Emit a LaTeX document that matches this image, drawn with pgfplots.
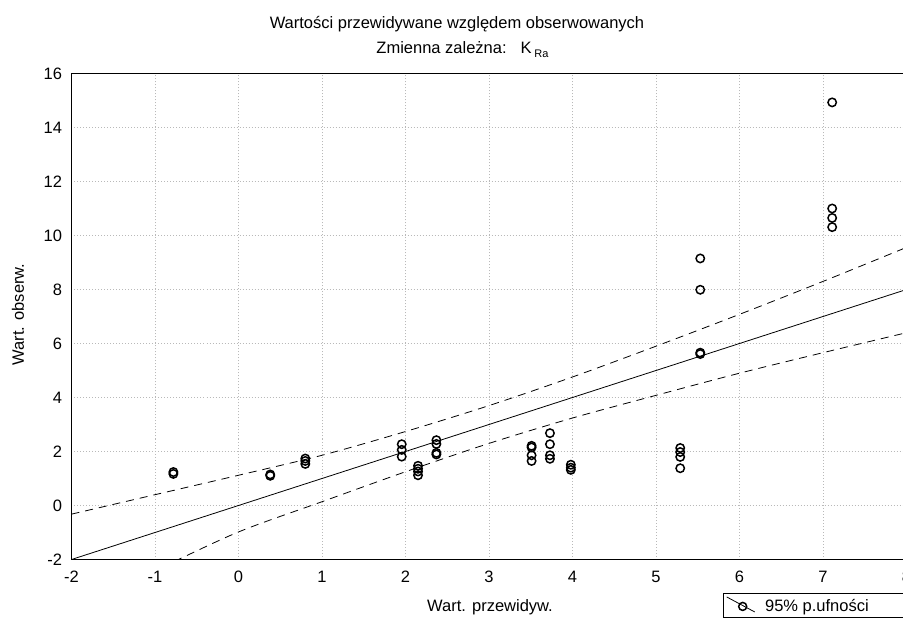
\documentclass[border=0pt]{standalone}
\usepackage{fontspec}
\setmainfont{Liberation Sans}
\usepackage{pgfplots}
\pgfplotsset{compat=1.18}
\newcommand{\fs}{\fontsize{16.5}{19}\selectfont}

\begin{document}
\begin{tikzpicture}[x=1pt,y=1pt]
\begin{axis}[
  at={(0,0)}, anchor=south west, scale only axis,
  width=835pt, height=486pt,
  xmin=-2, xmax=8, ymin=-2, ymax=16,
  xtick={-2,-1,...,8}, ytick={-2,0,...,16},
  grid=major,
  grid style={gray!55, line width=0.7pt, dash pattern=on 1pt off 2pt},
  major tick length=0pt,
  axis line style={line width=1pt},
  tick label style={font=\fs},
  /pgf/number format/assume math mode=true,
  xticklabel style={yshift=-8pt},
  yticklabel style={xshift=-6pt},
  legend style={at={(0.780,-0.069)}, anchor=north west, draw=black,
    line width=1pt, font=\fs, inner xsep=3pt, inner ysep=3pt},
  legend cell align=left,
]
% regression line
\addplot[black, line width=0.8pt, forget plot] coordinates {(-2,-2)(8,8)};
% 95% confidence band
\addplot[black, line width=0.8pt, dash pattern=on 8pt off 6pt, smooth, forget plot]
  coordinates {
    (-2,-0.32)(-1,0.40)(0,1.12)(1,1.86)(2,2.74)(3,3.70)
    (4,4.76)(5,5.90)(6,7.08)(7,8.30)(8,9.56)
  };
\addplot[black, line width=0.8pt, dash pattern=on 8pt off 6pt, smooth, forget plot]
  coordinates {
    (-2,-3.72)(-1,-2.40)(0,-0.98)(1,0.14)(2,1.25)(3,2.30)
    (4,3.24)(5,4.08)(6,4.90)(7,5.66)(8,6.40)
  };
% observed vs predicted
\addplot[only marks, mark=o, mark size=4.2pt, black,
  mark options={line width=1.5pt}, forget plot]
  coordinates {
    (-0.78,1.17)(-0.78,1.24)
    (0.38,1.10)(0.38,1.15)
    (0.80,1.54)(0.80,1.65)(0.80,1.74)
    (1.955,1.81)(1.955,2.06)(1.955,2.27)
    (2.15,1.12)(2.15,1.26)(2.15,1.36)(2.15,1.47)
    (2.37,1.89)(2.37,1.95)(2.37,2.28)(2.37,2.42)
    (3.51,1.65)(3.51,1.86)(3.51,2.15)(3.51,2.21)
    (3.73,1.73)(3.73,1.86)(3.73,2.27)(3.73,2.68)
    (3.98,1.32)(3.98,1.40)(3.98,1.51)
    (5.29,1.38)(5.29,1.80)(5.29,1.98)(5.29,2.13)
    (5.53,5.61)(5.53,5.66)(5.53,7.99)(5.53,9.15)
    (7.11,10.31)(7.11,10.65)(7.11,11.00)(7.11,14.93)
  };
\addlegendimage{legend image code/.code={
    \draw[black, line width=0.8pt] (3pt,9pt) -- (31pt,-6pt);
    \draw[black, line width=1.5pt] (19pt,-0.5pt) circle (4pt);
  }}
\addlegendentry{\hspace*{8pt}95\% p.ufności\rule[-18pt]{0pt}{18pt}\hspace*{60pt}}
\end{axis}
\node[font=\fs] at (385.5,535.5) {Wartości przewidywane względem obserwowanych};
\node[font=\fs] at (391,509.5) {Zmienna zależna:\hspace{14pt}K\,\raisebox{-4pt}{\fontsize{11}{12}\selectfont Ra}};
\node[font=\fs, rotate=90] at (-53.5,245) {Wart. obserw.};
\node[font=\fs] at (418.5,-47.5) {Wart. przewidyw.};
\pgfresetboundingbox
\useasboundingbox (-71.5,-59.5) rectangle (831.5,559.5);
\end{tikzpicture}
\end{document}
